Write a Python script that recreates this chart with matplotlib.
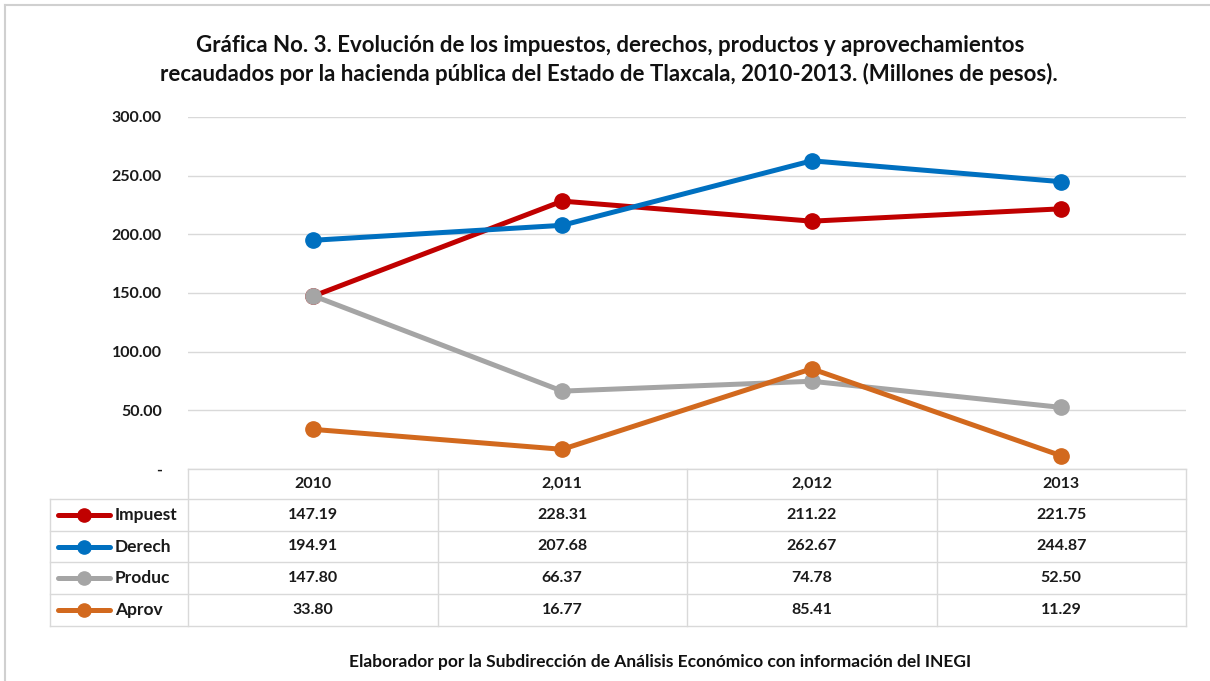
import numpy as np
import matplotlib.pyplot as plt
from matplotlib.lines import Line2D

plt.rcParams['font.family'] = ['Lato', 'DejaVu Sans']

# data
years = ['2010', '2,011', '2,012', '2013']
names = ['Impuest', 'Derech', 'Produc', 'Aprov']
impuest = [147.19, 228.31, 211.22, 221.75]
derech = [194.91, 207.68, 262.67, 244.87]
produc = [147.80, 66.37, 74.78, 52.50]
aprov = [33.80, 16.77, 85.41, 11.29]
yticks = [0, 50, 100, 150, 200, 250, 300]
ytick_labels = ['-', '50.00', '100.00', '150.00', '200.00', '250.00', '300.00']

series = [impuest, derech, produc, aprov]
colors = ['#C00000', '#0070C0', '#A5A5A5', '#D2691E']

W, H = 1210, 681
fig = plt.figure(figsize=(W/100, H/100), dpi=100)

# axes box in pixels
x0, x1, ytop, ybot = 188, 1186, 117, 469
ax = fig.add_axes([x0/W, 1-ybot/H, (x1-x0)/W, (ybot-ytop)/H])

x = np.arange(len(years))
for s, c in zip(series, colors):
    ax.plot(x, s, color=c, lw=3.6, marker='o', ms=11, solid_capstyle='round', zorder=3)

ax.set_xlim(-0.5, len(years)-0.5)
ax.set_ylim(0, 300)
ax.set_yticks(yticks)
ax.set_yticklabels(ytick_labels, fontsize=11.5, fontweight='bold', color='#1a1a1a')
ax.tick_params(axis='y', length=0, pad=19)
ax.set_xticks([])
ax.grid(axis='y', color='#D9D9D9', lw=1)
ax.set_axisbelow(True)
for sp in ax.spines.values():
    sp.set_visible(False)

# data table under the axes (figure pixel coordinates)
def fx(px):
    return px / W

def fy(py):
    return 1 - py / H

col_edges = np.linspace(x0, x1, len(years)+1)
row_edges = [469, 499, 531, 562, 594, 626]
lc = '#D9D9D9'
fig.add_artist(Line2D([fx(x0), fx(x1)], [fy(469), fy(469)], color=lc, lw=1))
for ry in row_edges[1:]:
    fig.add_artist(Line2D([fx(50), fx(x1)], [fy(ry), fy(ry)], color=lc, lw=1))
fig.add_artist(Line2D([fx(50), fx(50)], [fy(499), fy(626)], color=lc, lw=1))
for cx in col_edges:
    fig.add_artist(Line2D([fx(cx), fx(cx)], [fy(469), fy(626)], color=lc, lw=1))

tkw = dict(fontweight='bold', color='#1a1a1a', va='center')
for j, yr in enumerate(years):
    cx = (col_edges[j] + col_edges[j+1]) / 2
    fig.text(fx(cx), fy((row_edges[0]+row_edges[1])/2), yr, ha='center', fontsize=11.5, **tkw)
for i, (nm, s, c) in enumerate(zip(names, series, colors)):
    cy = (row_edges[i+1] + row_edges[i+2]) / 2
    fig.add_artist(Line2D([fx(58), fx(110)], [fy(cy), fy(cy)], color=c, lw=3.6,
                          solid_capstyle='round'))
    fig.add_artist(Line2D([fx(84)], [fy(cy)], color=c, marker='o', ms=9.5))
    fig.text(fx(115), fy(cy), nm, ha='left', fontsize=12.5, **tkw)
    for j, v in enumerate(s):
        cx = (col_edges[j] + col_edges[j+1]) / 2
        fig.text(fx(cx), fy(cy), f'{v:.2f}', ha='center', fontsize=11.5, **tkw)

# title and footer
fig.text(fx(610), fy(45), 'Gráfica No. 3. Evolución de los impuestos, derechos, productos y aprovechamientos',
         ha='center', va='center', fontsize=16, fontweight='bold', color='#111111')
fig.text(fx(609), fy(74), 'recaudados por la hacienda pública del Estado de Tlaxcala, 2010-2013. (Millones de pesos).',
         ha='center', va='center', fontsize=16, fontweight='bold', color='#111111')
fig.text(fx(660), fy(662), 'Elaborador por la Subdirección de Análisis Económico con información del INEGI',
         ha='center', va='center', fontsize=12.5, fontweight='bold', color='#111111')

# light frame on the left and top
fig.add_artist(Line2D([fx(5), fx(5)], [fy(5), 0], color='#D0D0D0', lw=1.5))
fig.add_artist(Line2D([fx(5), 1], [fy(5), fy(5)], color='#D0D0D0', lw=1.5))

fig.savefig('out.png', dpi=100)
